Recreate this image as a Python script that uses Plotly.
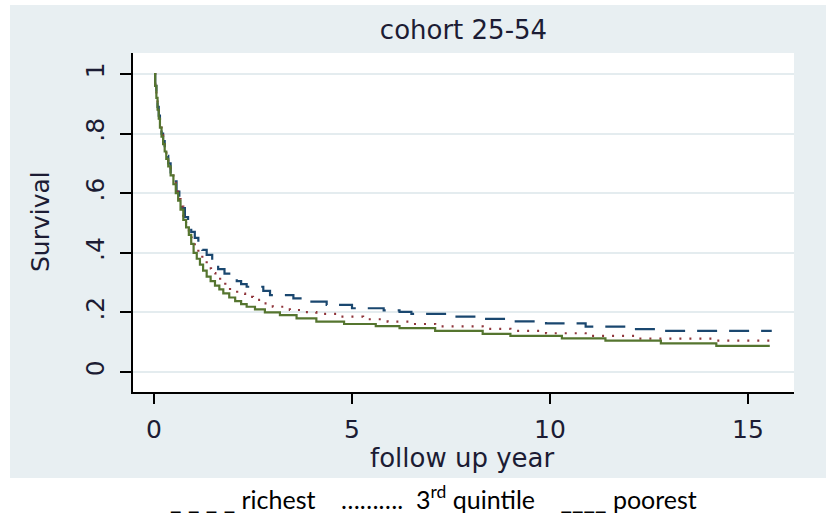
import plotly.graph_objects as go

# ---- data ----
rich_t = [0, 0.03, 0.06, 0.09, 0.12, 0.15, 0.19, 0.23, 0.27, 0.31, 0.36, 0.42, 0.49,
          0.57, 0.64, 0.71, 0.78, 0.86, 0.94, 1.03, 1.12, 1.22, 1.33, 1.47, 1.62,
          1.78, 1.93, 2.09, 2.2, 2.34, 2.76, 2.93, 3.52, 3.77, 4.36, 5.0, 5.8, 6.2,
          6.5, 7.6, 8.25, 9.0, 9.9, 10.9, 12.0, 12.9, 15.6]
rich_s = [1.0, 0.96, 0.925, 0.89, 0.86, 0.83, 0.80, 0.775, 0.75, 0.725, 0.70, 0.67, 0.64,
          0.605, 0.575, 0.55, 0.52, 0.49, 0.47, 0.45, 0.43, 0.41, 0.393, 0.37, 0.345,
          0.33, 0.318, 0.305, 0.295, 0.286, 0.272, 0.258, 0.247, 0.236, 0.225, 0.214, 0.207, 0.202,
          0.195, 0.186, 0.178, 0.170, 0.163, 0.152, 0.144, 0.138, 0.138]

mid_t = [0, 0.03, 0.06, 0.09, 0.12, 0.15, 0.19, 0.23, 0.27, 0.31, 0.36, 0.42, 0.49,
         0.55, 0.61, 0.67, 0.74, 0.81, 0.88, 0.95, 1.03, 1.12, 1.22, 1.33, 1.44,
         1.55, 1.67, 1.8, 1.92, 2.1, 2.3, 2.5, 2.75, 3.0, 3.43, 3.75, 4.1, 4.7,
         5.28, 5.9, 6.5, 7.1, 8.3, 9.0, 9.9, 10.9, 12.2, 14.2, 15.55]
mid_s = [1.0, 0.96, 0.92, 0.885, 0.855, 0.825, 0.795, 0.77, 0.745, 0.72, 0.695, 0.665, 0.635,
         0.605, 0.58, 0.555, 0.525, 0.5, 0.475, 0.45, 0.425, 0.40, 0.375, 0.348, 0.332,
         0.32, 0.309, 0.29, 0.275, 0.263, 0.252, 0.242, 0.23, 0.219, 0.208, 0.201, 0.195, 0.186,
         0.177, 0.169, 0.161, 0.153, 0.145, 0.138, 0.130, 0.121, 0.112, 0.105, 0.105]

poor_t = [0, 0.03, 0.06, 0.09, 0.12, 0.15, 0.19, 0.23, 0.27, 0.31, 0.36, 0.42, 0.49,
          0.55, 0.61, 0.67, 0.74, 0.81, 0.88, 0.94, 1.0, 1.08, 1.16, 1.24, 1.33,
          1.43, 1.54, 1.65, 1.75, 1.9, 2.05, 2.2, 2.34, 2.55, 2.8, 3.18, 3.6, 4.1,
          4.8, 5.6, 6.2, 7.1, 8.3, 9.0, 10.3, 11.4, 12.8, 14.2, 15.55]
poor_s = [1.0, 0.96, 0.92, 0.88, 0.85, 0.82, 0.79, 0.765, 0.74, 0.715, 0.69, 0.66, 0.63,
          0.60, 0.575, 0.545, 0.51, 0.485, 0.46, 0.43, 0.40, 0.38, 0.36, 0.34, 0.32,
          0.305, 0.29, 0.277, 0.264, 0.25, 0.238, 0.228, 0.219, 0.21, 0.2, 0.191, 0.18, 0.169,
          0.161, 0.154, 0.147, 0.138, 0.128, 0.121, 0.113, 0.105, 0.096, 0.088, 0.088]

x_ticks = [0, 5, 10, 15]
y_ticks = [0, 0.2, 0.4, 0.6, 0.8, 1]
y_tick_text = ["0", ".2", ".4", ".6", ".8", "1"]

title_text = "cohort 25-54"
x_title = "follow up year"
y_title = "Survival"
note_text = "_ _ _ _ richest    ……….  3<sup>rd</sup> quintile    ____ poorest"

# ---- styling ----
BG = "#E8EFF2"
STATA_FONT = "DejaVu Sans"
TXT = "#1c1c34"

fig = go.Figure()
fig.add_trace(go.Scatter(x=rich_t, y=rich_s, mode="lines", line_shape="hv",
                         line=dict(color="#1a476f", width=2.2, dash="20px,12px"),
                         name="richest"))
fig.add_trace(go.Scatter(x=mid_t, y=mid_s, mode="lines", line_shape="hv",
                         line=dict(color="#90353b", width=2.2, dash="2px,8px"),
                         name="3rd quintile"))
fig.add_trace(go.Scatter(x=poor_t, y=poor_s, mode="lines", line_shape="hv",
                         line=dict(color="#55752f", width=2.2),
                         name="poorest"))

L, R, T, B = 133, 32, 53, 122
W, H = 826, 514
pw, ph = W - L - R, H - T - B


def px(xp):
    return (xp - L) / pw


def py(yp):
    return (H - B - yp) / ph


fig.update_layout(
    width=W, height=H,
    margin=dict(l=L, r=R, t=T, b=B, pad=0),
    paper_bgcolor=BG,
    plot_bgcolor="white",
    showlegend=False,
    title=dict(text=title_text, x=0.5, xref="paper", xanchor="center",
               y=1 - 30 / H, yanchor="middle",
               font=dict(family=STATA_FONT, size=26, color=TXT)),
    xaxis=dict(range=[(L - 154) / 39.6, (W - R - 154) / 39.6],
               tickvals=x_ticks, ticks="outside", ticklen=10, tickwidth=2,
               tickcolor="black", showline=True, linecolor="black", linewidth=2,
               showgrid=False, zeroline=False, ticklabelstandoff=4,
               tickfont=dict(family=STATA_FONT, size=25, color=TXT)),
    yaxis=dict(range=[(372 - (H - B)) / 298, (372 - T) / 298],
               tickvals=y_ticks, ticktext=y_tick_text, tickangle=-90,
               ticks="outside", ticklen=11, tickwidth=2, tickcolor="black",
               showline=True, linecolor="black", linewidth=2, ticklabelstandoff=6,
               showgrid=True, gridcolor="#E4ECEF", gridwidth=1.5, zeroline=False,
               tickfont=dict(family=STATA_FONT, size=25, color=TXT)),
    shapes=[
        dict(type="rect", xref="paper", yref="paper", x0=px(0), x1=px(W + 5),
             y0=py(478), y1=py(H + 5), fillcolor="white", line=dict(width=0), layer="below"),
        dict(type="rect", xref="paper", yref="paper", x0=px(-5), x1=px(10),
             y0=py(H + 5), y1=py(-5), fillcolor="white", line=dict(width=0), layer="below"),
        dict(type="rect", xref="paper", yref="paper", x0=px(-5), x1=px(W + 5),
             y0=py(5), y1=py(-5), fillcolor="white", line=dict(width=0), layer="below"),
    ],
    annotations=[
        dict(text=x_title, xref="paper", yref="paper", x=px(462), y=py(458),
             xanchor="center", yanchor="middle", showarrow=False,
             font=dict(family=STATA_FONT, size=26, color=TXT)),
        dict(text=y_title, xref="paper", yref="paper", x=px(40), y=py(222),
             xanchor="center", yanchor="middle", showarrow=False, textangle=-90,
             font=dict(family=STATA_FONT, size=25, color=TXT)),
        dict(text=note_text, xref="paper", yref="paper", x=px(433), y=py(497),
             xanchor="center", yanchor="middle", showarrow=False,
             font=dict(family="Lato", size=25, color="black")),
    ],
)

fig.write_html("out.html")
